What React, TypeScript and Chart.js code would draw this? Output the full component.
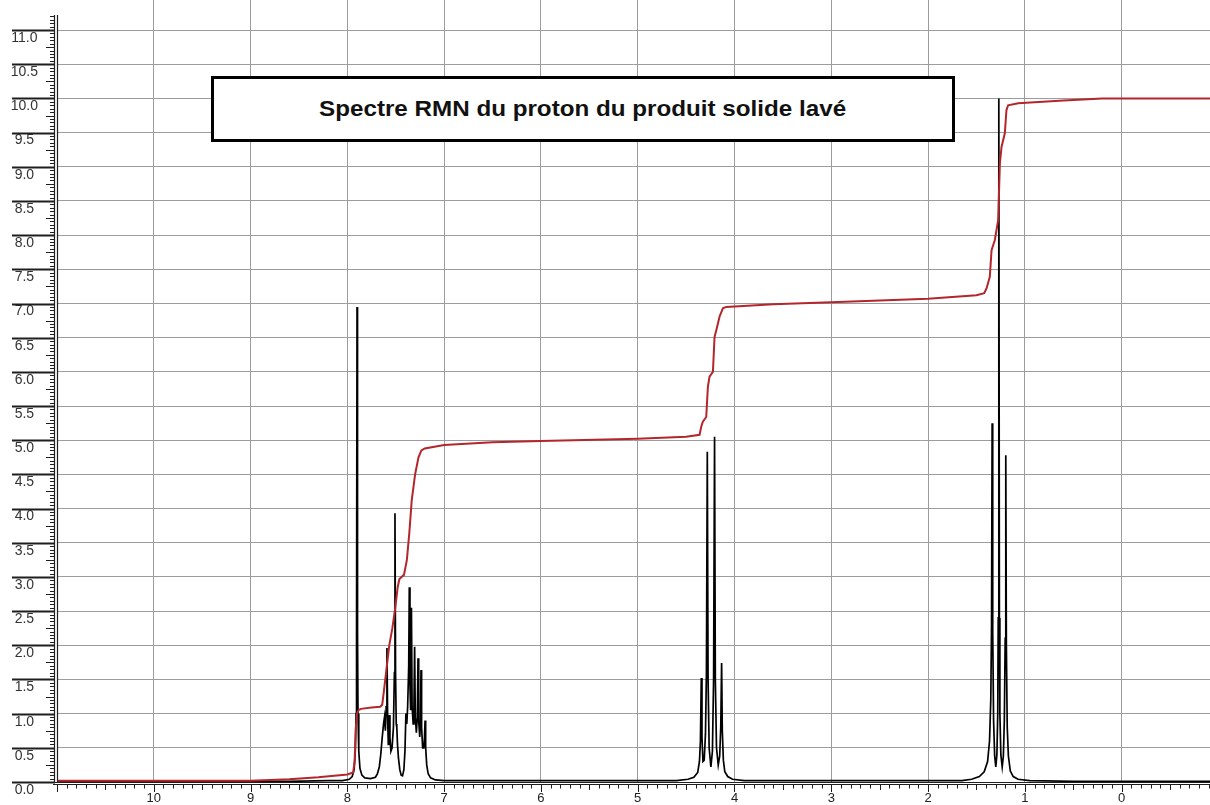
import React, { useEffect, useRef } from "react";
import { Chart, registerables } from "chart.js";

Chart.register(...registerables);

// Axis ranges (ppm reversed on x)
const X_MIN = -0.913;
const X_MAX = 11.0;
const Y_MIN = 0;
const Y_MAX = 11.44;
const Y_AXIS_TOP = 11.22;

const xTickValues = [0, 1, 2, 3, 4, 5, 6, 7, 8, 9, 10];
const yTickValues = [0, 0.5, 1, 1.5, 2, 2.5, 3, 3.5, 4, 4.5, 5, 5.5, 6, 6.5, 7, 7.5, 8, 8.5, 9, 9.5, 10, 10.5, 11];

const titleText = "Spectre RMN du proton du produit solide lavé";

// Spectrum (ppm, intensity)
const baselineLeft: number[][] = [[11.0, 0.01], [8.6, 0.01], [8.2, 0.02]];

const singletPts: number[][] = [
  [8.05, 0.02], [7.98, 0.04], [7.95, 0.08], [7.93, 0.18], [7.918, 0.45], [7.91, 1.0],
  [7.905, 2.2], [7.9, 6.95], [7.895, 2.2], [7.89, 1.0], [7.882, 0.45], [7.87, 0.2],
  [7.85, 0.1], [7.82, 0.06], [7.76, 0.05], [7.71, 0.07],
];

const aromaticPts: number[][] = [
  [7.69, 0.12], [7.67, 0.22], [7.655, 0.4], [7.64, 0.65], [7.626, 0.85], [7.616, 0.95],
  [7.607, 0.75], [7.599, 1.1], [7.591, 1.96], [7.584, 0.95], [7.577, 0.55], [7.571, 0.7],
  [7.566, 0.98], [7.56, 0.65], [7.55, 0.45], [7.538, 0.5], [7.524, 0.8], [7.514, 1.6],
  [7.508, 3.93], [7.502, 1.6], [7.495, 0.85], [7.489, 0.8], [7.482, 0.55], [7.472, 0.35],
  [7.458, 0.18], [7.444, 0.1], [7.43, 0.09], [7.416, 0.18], [7.405, 0.45], [7.395, 1.0],
  [7.386, 0.85], [7.377, 1.1], [7.366, 1.7], [7.36, 2.85], [7.353, 1.4], [7.346, 1.05],
  [7.338, 2.55], [7.331, 1.1], [7.32, 0.85], [7.312, 1.1], [7.305, 1.98], [7.298, 0.95],
  [7.287, 0.72], [7.277, 0.95], [7.27, 1.81], [7.263, 0.9], [7.252, 0.66], [7.245, 0.85],
  [7.239, 1.64], [7.233, 0.8], [7.222, 0.5], [7.21, 0.5], [7.203, 0.65], [7.197, 0.9],
  [7.191, 0.5], [7.18, 0.25], [7.165, 0.12], [7.14, 0.06], [7.09, 0.03], [7.0, 0.02],
];

const quartetPts: number[][] = [
  [4.6, 0.02], [4.48, 0.04], [4.42, 0.07], [4.38, 0.14], [4.362, 0.3], [4.352, 0.6],
  [4.343, 1.52], [4.336, 0.65], [4.326, 0.3], [4.313, 0.32], [4.3, 0.7], [4.29, 1.6],
  [4.281, 4.83], [4.273, 1.5], [4.262, 0.5], [4.244, 0.22], [4.228, 0.45], [4.216, 1.5],
  [4.206, 5.05], [4.198, 1.5], [4.186, 0.5], [4.168, 0.25], [4.153, 0.38], [4.142, 0.8],
  [4.133, 1.74], [4.126, 0.75], [4.115, 0.32], [4.1, 0.15], [4.07, 0.08], [4.02, 0.04],
  [3.9, 0.02],
];

const tripletPts: number[][] = [
  [1.65, 0.02], [1.55, 0.04], [1.47, 0.08], [1.42, 0.15], [1.385, 0.3], [1.365, 0.6],
  [1.352, 1.2], [1.344, 2.3], [1.338, 5.25], [1.332, 2.2], [1.323, 0.9], [1.312, 0.38],
  [1.3, 0.22], [1.289, 0.4], [1.28, 1.0], [1.275, 2.4], [1.269, 10.0], [1.263, 2.4],
  [1.258, 1.0], [1.248, 0.4], [1.234, 0.22], [1.222, 0.38], [1.212, 0.9], [1.203, 2.1],
  [1.197, 4.78], [1.191, 2.0], [1.182, 0.8], [1.17, 0.38], [1.15, 0.16], [1.12, 0.08],
  [1.07, 0.04], [0.95, 0.02],
];

const baselineRight: number[][] = [[0.5, 0.01], [-0.913, 0.01]];

// Integral curve (ppm, value)
const integralPts: number[][] = [
  [11.0, 0.02], [9.0, 0.02], [8.6, 0.04], [8.3, 0.07], [8.0, 0.11], [7.94, 0.14],
  [7.925, 0.3], [7.912, 0.8], [7.9, 1.0], [7.885, 1.05], [7.86, 1.07], [7.75, 1.09],
  [7.66, 1.1], [7.64, 1.13], [7.625, 1.3], [7.6, 1.6], [7.567, 2.0], [7.535, 2.25],
  [7.505, 2.55], [7.48, 2.85], [7.462, 2.97], [7.44, 3.0], [7.415, 3.03], [7.385, 3.25],
  [7.36, 3.64], [7.335, 4.12], [7.3, 4.5], [7.265, 4.75], [7.235, 4.85], [7.2, 4.88],
  [7.0, 4.93], [6.5, 4.97], [6.0, 4.99], [5.0, 5.02], [4.5, 5.05], [4.361, 5.08],
  [4.343, 5.2], [4.327, 5.27], [4.292, 5.34], [4.275, 5.78], [4.258, 5.93], [4.223, 6.0],
  [4.206, 6.51], [4.188, 6.61], [4.154, 6.81], [4.12, 6.93], [4.085, 6.95], [3.6, 6.99],
  [3.0, 7.02], [2.0, 7.07], [1.5, 7.12], [1.42, 7.15], [1.396, 7.22], [1.362, 7.39],
  [1.344, 7.78], [1.31, 7.93], [1.276, 8.22], [1.258, 9.05], [1.241, 9.29], [1.207, 9.49],
  [1.19, 9.83], [1.173, 9.9], [1.069, 9.93], [0.6, 9.97], [0.2, 10.0], [-0.913, 10.0],
];

const toXY = (pts: number[][]) => pts.map(([x, y]) => ({ x, y }));

const decorPlugin = {
  id: "nmrDecor",
  afterDraw(chart: any) {
    const ctx: CanvasRenderingContext2D = chart.ctx;
    const xs = chart.scales.x;
    const ys = chart.scales.y;
    const { left, right, bottom } = chart.chartArea;
    const line = (x1: number, y1: number, x2: number, y2: number) => {
      ctx.beginPath();
      ctx.moveTo(x1, y1);
      ctx.lineTo(x2, y2);
      ctx.stroke();
    };
    ctx.save();
    ctx.strokeStyle = "#1e1e1e";
    // y axis double line
    const yTop = ys.getPixelForValue(Y_AXIS_TOP);
    ctx.lineWidth = 1.2;
    line(left - 2.5, yTop, left - 2.5, bottom + 1);
    line(left + 0.5, yTop, left + 0.5, bottom + 1);
    // y ticks
    const nY = Math.round(Y_AXIS_TOP * 20);
    for (let i = 0; i <= nY; i++) {
      const py = Math.round(ys.getPixelForValue(i / 20)) + 0.5;
      if (i % 10 === 0) {
        ctx.lineWidth = 2;
        line(12, py, left - 2, py);
      } else if (i % 5 === 0) {
        ctx.lineWidth = 1;
        line(left - 11, py, left - 2, py);
      } else {
        ctx.lineWidth = 1;
        line(left - 7, py, left - 2, py);
      }
    }
    // x axis double line
    ctx.lineWidth = 1.2;
    line(left - 4, bottom + 0.5, right, bottom + 0.5);
    line(left - 4, bottom + 2.5, right, bottom + 2.5);
    // x ticks every 0.1
    ctx.lineWidth = 1;
    const startI = Math.ceil(X_MIN * 10);
    const endI = Math.floor(X_MAX * 10);
    for (let i = startI; i <= endI; i++) {
      const px = Math.round(xs.getPixelForValue(i / 10)) + 0.5;
      const len = i % 10 === 0 ? 8 : i % 5 === 0 ? 6 : 4.5;
      line(px, bottom + 2, px, bottom + 2 + len);
    }
    ctx.restore();
  },
};

export default function App() {
  const canvasRef = useRef<HTMLCanvasElement | null>(null);

  useEffect(() => {
    if (!canvasRef.current) return;
    const spectrum = [
      ...baselineLeft,
      ...singletPts,
      ...aromaticPts,
      ...quartetPts,
      ...tripletPts,
      ...baselineRight,
    ];
    const chart = new Chart(canvasRef.current, {
      type: "scatter",
      data: {
        datasets: [
          {
            label: "Intégrale",
            data: toXY(integralPts),
            showLine: true,
            borderColor: "#b3262b",
            borderWidth: 2,
            pointRadius: 0,
            tension: 0,
          },
          {
            label: "Spectre",
            data: toXY(spectrum),
            showLine: true,
            borderColor: "#000000",
            borderWidth: 1.7,
            pointRadius: 0,
            tension: 0,
          },
        ],
      },
      options: {
        animation: false,
        responsive: false,
        devicePixelRatio: 1,
        layout: { padding: 0 },
        plugins: {
          legend: { display: false },
          title: { display: false },
          tooltip: { enabled: false },
        },
        scales: {
          x: {
            type: "linear",
            reverse: true,
            min: X_MIN,
            max: X_MAX,
            afterBuildTicks: (scale: any) => {
              scale.ticks = xTickValues.map((v) => ({ value: v }));
            },
            afterFit: (scale: any) => {
              scale.height = 23;
              scale.paddingLeft = 0;
              scale.paddingRight = 0;
            },
            grid: { color: "#9c9c9c", lineWidth: 1, drawTicks: false },
            border: { display: false },
            ticks: {
              padding: 9,
              color: "#222",
              font: { family: "'Liberation Sans', Arial, sans-serif", size: 13 },
              callback: (v: any) => String(v),
              maxRotation: 0,
              autoSkip: false,
            },
          },
          y: {
            type: "linear",
            min: Y_MIN,
            max: Y_MAX,
            afterBuildTicks: (scale: any) => {
              scale.ticks = yTickValues.map((v) => ({ value: v }));
            },
            afterFit: (scale: any) => {
              scale.width = 57;
              scale.paddingTop = 0;
              scale.paddingBottom = 0;
            },
            grid: { color: "#9c9c9c", lineWidth: 1, drawTicks: false },
            border: { display: false },
            ticks: {
              padding: 19,
              crossAlign: "center",
              labelOffset: 8,
              color: "#333",
              font: { family: "'Liberation Sans', Arial, sans-serif", size: 14 },
              callback: (v: any) => Number(v).toFixed(1),
              autoSkip: false,
            },
          },
        },
      },
      plugins: [decorPlugin],
    } as any);
    return () => chart.destroy();
  }, []);

  return (
    <div style={{ position: "fixed", left: 0, top: 0, width: 1210, height: 805, background: "#fff" }}>
      <canvas ref={canvasRef} width={1210} height={805} style={{ width: 1210, height: 805, display: "block" }} />
      <div
        style={{
          position: "absolute",
          left: 211,
          top: 76,
          width: 744,
          height: 66,
          boxSizing: "border-box",
          border: "3px solid #000",
          background: "#fff",
          display: "flex",
          alignItems: "center",
          justifyContent: "center",
        }}
      >
        <span
          style={{
            fontFamily: "'Liberation Sans', Arial, sans-serif",
            fontWeight: "bold",
            fontSize: 22,
            color: "#111",
            display: "inline-block",
            transform: "scaleX(1.1)",
            whiteSpace: "nowrap",
          }}
        >
          {titleText}
        </span>
      </div>
    </div>
  );
}
